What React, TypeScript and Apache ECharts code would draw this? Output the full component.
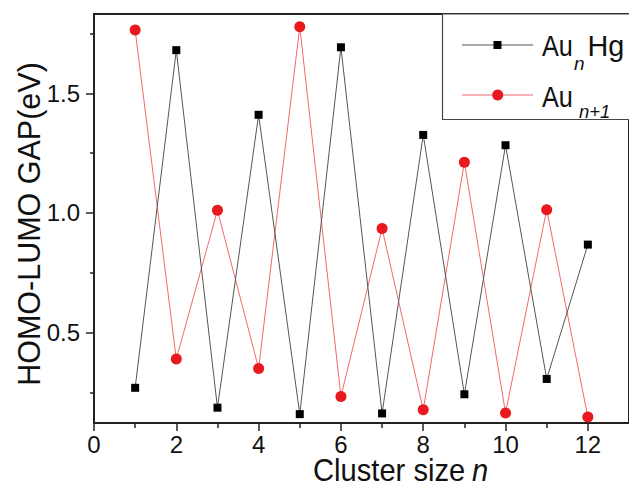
import React, { useEffect, useRef } from "react";
import * as echarts from "echarts";

const clusterSizes = [1, 2, 3, 4, 5, 6, 7, 8, 9, 10, 11, 12];
const auHgGap = [0.27, 1.68, 0.187, 1.41, 0.16, 1.692, 0.163, 1.326, 0.243, 1.283, 0.307, 0.868];
const auN1Gap = [1.764, 0.39, 1.011, 0.351, 1.778, 0.234, 0.935, 0.178, 1.212, 0.165, 1.014, 0.148];
const xMajorTicks = [0, 2, 4, 6, 8, 10, 12];
const xMinorTicks = [1, 3, 5, 7, 9, 11];
const yMajorTicks = [0.5, 1.0, 1.5];
const yMinorTicks = [0.25, 0.75, 1.25, 1.75];

const FONT = "'Liberation Sans', Arial, Helvetica, sans-serif";

export default function App() {
  const ref = useRef<HTMLDivElement>(null);
  useEffect(() => {
    if (!ref.current) return;
    const chart = echarts.init(ref.current, null, { renderer: "svg" });
    const yMin = 0.123;
    const yMax = 1.831;
    const option: any = {
      animation: false,
      backgroundColor: "#ffffff",
      textStyle: { fontFamily: FONT },
      grid: {
        left: 94,
        top: 14,
        width: 544,
        height: 409,
        show: true,
        borderColor: "#222",
        borderWidth: 2,
        backgroundColor: "transparent",
      },
      xAxis: [
        {
          type: "value",
          min: 0,
          max: 13,
          position: "bottom",
          axisLine: { show: true, lineStyle: { color: "#222", width: 2 } },
          axisTick: {
            show: true,
            customValues: xMajorTicks,
            length: 8,
            lineStyle: { color: "#222", width: 1.5 },
          },
          axisLabel: {
            customValues: xMajorTicks,
            fontSize: 24,
            lineHeight: 18,
            color: "#111",
            margin: 12,
            fontFamily: FONT,
          },
          splitLine: { show: false },
        },
        {
          type: "value",
          min: 0,
          max: 13,
          position: "bottom",
          axisLine: { show: false },
          axisTick: {
            show: true,
            customValues: xMinorTicks,
            length: 5,
            lineStyle: { color: "#222", width: 1.5 },
          },
          axisLabel: { show: false },
          splitLine: { show: false },
        },
      ],
      yAxis: [
        {
          type: "value",
          min: yMin,
          max: yMax,
          position: "left",
          axisLine: { show: true, lineStyle: { color: "#222", width: 2 } },
          axisTick: {
            show: true,
            customValues: yMajorTicks,
            length: 8,
            lineStyle: { color: "#222", width: 1.5 },
          },
          axisLabel: {
            customValues: yMajorTicks,
            fontSize: 24,
            color: "#111",
            margin: 14,
            fontFamily: FONT,
            formatter: (v: number) => v.toFixed(1),
          },
          splitLine: { show: false },
        },
        {
          type: "value",
          min: yMin,
          max: yMax,
          position: "left",
          axisLine: { show: false },
          axisTick: {
            show: true,
            customValues: yMinorTicks,
            length: 4,
            lineStyle: { color: "#222", width: 1.5 },
          },
          axisLabel: { show: false },
          splitLine: { show: false },
        },
      ],
      series: [
        {
          name: "AuₙHg",
          type: "line",
          xAxisIndex: 0,
          yAxisIndex: 0,
          data: clusterSizes.map((n, i) => [n, auHgGap[i]]),
          symbol: "rect",
          symbolSize: 8,
          lineStyle: { color: "#555", width: 1 },
          itemStyle: { color: "#000" },
          z: 3,
        },
        {
          name: "Auₙ₊₁",
          type: "line",
          xAxisIndex: 0,
          yAxisIndex: 0,
          data: clusterSizes.map((n, i) => [n, auN1Gap[i]]),
          symbol: "circle",
          symbolSize: 11,
          lineStyle: { color: "#f26a6a", width: 1 },
          itemStyle: { color: "#e8191f" },
          z: 2,
        },
      ],
      graphic: [
        {
          type: "text",
          x: 29,
          y: 224,
          rotation: Math.PI / 2,
          style: {
            text: "HOMO-LUMO GAP(eV)",
            fontSize: 30.5,
            fontFamily: FONT,
            fill: "#111",
            align: "center",
            verticalAlign: "middle",
          },
        },
        {
          type: "text",
          x: 313,
          y: 470,
          scaleX: 0.94,
          style: {
            text: "Cluster size",
            fontSize: 31,
            lineHeight: 24,
            fontFamily: FONT,
            fill: "#111",
            align: "left",
            verticalAlign: "middle",
          },
        },
        {
          type: "text",
          x: 472,
          y: 470,
          scaleX: 0.94,
          style: {
            text: "n",
            fontSize: 31,
            lineHeight: 24,
            fontStyle: "italic",
            fontFamily: FONT,
            fill: "#111",
            align: "left",
            verticalAlign: "middle",
          },
        },
        {
          type: "rect",
          shape: { x: 442.5, y: 14, width: 220, height: 105.5 },
          style: { fill: "#ffffff", stroke: "#444", lineWidth: 1.2 },
          z: 100,
        },
        {
          type: "line",
          shape: { x1: 462, y1: 45, x2: 533, y2: 45 },
          style: { stroke: "#555", lineWidth: 1 },
          z: 101,
        },
        {
          type: "rect",
          shape: { x: 493.5, y: 41, width: 8, height: 8 },
          style: { fill: "#000" },
          z: 102,
        },
        {
          type: "line",
          shape: { x1: 462, y1: 95, x2: 533, y2: 95 },
          style: { stroke: "#f26a6a", lineWidth: 1 },
          z: 101,
        },
        {
          type: "circle",
          shape: { cx: 497.7, cy: 95, r: 5.5 },
          style: { fill: "#e8191f" },
          z: 102,
        },
        {
          type: "text",
          x: 542,
          y: 45.5,
          scaleX: 0.87,
          style: { text: "Au", fontSize: 29, fontFamily: FONT, fill: "#111", verticalAlign: "middle" },
          z: 103,
        },
        {
          type: "text",
          x: 574,
          y: 63,
          style: { text: "n", fontSize: 19, fontStyle: "italic", fontFamily: FONT, fill: "#111", verticalAlign: "middle" },
          z: 103,
        },
        {
          type: "text",
          x: 587.5,
          y: 45.5,
          scaleX: 0.96,
          style: { text: "Hg", fontSize: 30, fontFamily: FONT, fill: "#111", verticalAlign: "middle" },
          z: 103,
        },
        {
          type: "text",
          x: 542,
          y: 97,
          scaleX: 0.87,
          style: { text: "Au", fontSize: 29, fontFamily: FONT, fill: "#111", verticalAlign: "middle" },
          z: 103,
        },
        {
          type: "text",
          x: 579,
          y: 111,
          style: { text: "n+1", fontSize: 18.5, fontStyle: "italic", fontFamily: FONT, fill: "#111", verticalAlign: "middle" },
          z: 103,
        },
      ],
    };
    chart.setOption(option);
    return () => chart.dispose();
  }, []);
  return (
    <div
      ref={ref}
      style={{ position: "absolute", left: 0, top: 0, width: 629, height: 486, background: "#fff" }}
    />
  );
}
